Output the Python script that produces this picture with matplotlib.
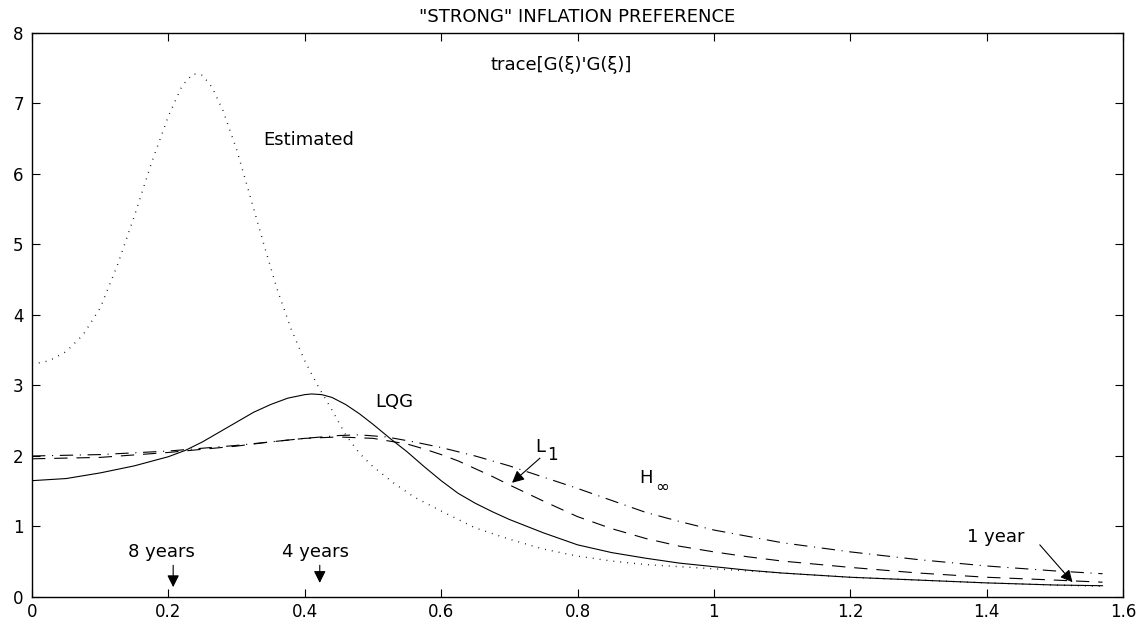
import numpy as np
import matplotlib.pyplot as plt

plt.rcParams['font.family'] = ['DejaVu Sans']

# curves (x = frequency, y = trace value)
x_est = [0, 0.025, 0.05, 0.075, 0.1, 0.125, 0.15, 0.175, 0.2, 0.22, 0.236, 0.25,
         0.264, 0.28, 0.3, 0.32, 0.34, 0.36, 0.38, 0.4, 0.42, 0.44, 0.46, 0.48,
         0.5, 0.53, 0.56, 0.6, 0.65, 0.7, 0.75, 0.8, 0.85, 0.9, 0.95, 1.0,
         1.1, 1.2, 1.3, 1.4, 1.5, 1.57]
y_est = [3.3, 3.35, 3.48, 3.72, 4.1, 4.7, 5.4, 6.15, 6.82, 7.25, 7.42, 7.4,
         7.23, 6.9, 6.35, 5.68, 5.0, 4.35, 3.8, 3.35, 2.98, 2.65, 2.3, 2.04,
         1.85, 1.62, 1.42, 1.22, 0.98, 0.82, 0.68, 0.58, 0.51, 0.46, 0.43, 0.40,
         0.34, 0.28, 0.24, 0.20, 0.17, 0.15]

x_lqg = [0, 0.05, 0.1, 0.15, 0.2, 0.225, 0.25, 0.275, 0.3, 0.325, 0.35, 0.375,
         0.4, 0.41, 0.425, 0.44, 0.46, 0.48, 0.5, 0.525, 0.55, 0.575, 0.6, 0.625,
         0.65, 0.675, 0.7, 0.75, 0.8, 0.85, 0.9, 0.95, 1.0, 1.05, 1.1, 1.2, 1.3,
         1.4, 1.5, 1.57]
y_lqg = [1.65, 1.68, 1.76, 1.86, 1.99, 2.08, 2.2, 2.34, 2.48, 2.62, 2.73, 2.82,
         2.87, 2.88, 2.87, 2.83, 2.73, 2.6, 2.45, 2.25, 2.06, 1.85, 1.65, 1.47,
         1.33, 1.21, 1.1, 0.91, 0.74, 0.63, 0.55, 0.48, 0.43, 0.38, 0.34, 0.28, 0.24,
         0.2, 0.17, 0.16]

x_l1 = [0, 0.1, 0.2, 0.3, 0.35, 0.4, 0.45, 0.5, 0.55, 0.575, 0.6, 0.625, 0.65,
        0.675, 0.7, 0.75, 0.8, 0.85, 0.9, 0.95, 1.0, 1.05, 1.1, 1.2, 1.3, 1.4,
        1.5, 1.57]
y_l1 = [1.96, 1.98, 2.05, 2.14, 2.2, 2.25, 2.27, 2.25, 2.17, 2.1, 2.02, 1.93, 1.82,
        1.71, 1.59, 1.36, 1.14, 0.97, 0.83, 0.72, 0.64, 0.57, 0.51, 0.42, 0.34, 0.28,
        0.24, 0.21]

x_hinf = [0, 0.1, 0.2, 0.3, 0.4, 0.45, 0.48, 0.52, 0.56, 0.6, 0.65, 0.7, 0.75,
          0.8, 0.85, 0.9, 0.95, 1.0, 1.05, 1.1, 1.2, 1.3, 1.4, 1.5, 1.57]
y_hinf = [2.0, 2.02, 2.07, 2.15, 2.25, 2.29, 2.3, 2.27, 2.2, 2.12, 2.0, 1.86, 1.7,
          1.54, 1.37, 1.2, 1.07, 0.95, 0.86, 0.77, 0.64, 0.53, 0.44, 0.37, 0.33]

xticks = [0, 0.2, 0.4, 0.6, 0.8, 1, 1.2, 1.4, 1.6]
xticklabels = ['0', '0.2', '0.4', '0.6', '0.8', '1', '1.2', '1.4', '1.6']
yticks = [0, 1, 2, 3, 4, 5, 6, 7, 8]

fig = plt.figure(figsize=(11.48, 6.25), dpi=100)
ax = fig.add_axes([0.0279, 0.0448, 0.9503, 0.9025])

ax.plot(x_est, y_est, color='k', lw=1.0, linestyle=(0, (0.6, 4.4)))
ax.plot(x_lqg, y_lqg, color='k', lw=0.8)
ax.plot(x_l1, y_l1, color='k', lw=0.8, linestyle=(0, (12, 8)))
ax.plot(x_hinf, y_hinf, color='k', lw=0.8, linestyle=(0, (12, 6, 1, 6)))

ax.set_xlim(0, 1.6)
ax.set_ylim(0, 8)
ax.set_xticks(xticks)
ax.set_xticklabels(xticklabels)
ax.set_yticks(yticks)
ax.tick_params(direction='in', length=6, width=0.8, labelsize=12,
               top=True, right=True, pad=4)
ax.tick_params(axis='y', pad=6)
for s in ax.spines.values():
    s.set_linewidth(1.0)

ax.set_title('"STRONG" INFLATION PREFERENCE', fontsize=13, pad=8)

fs = 13
ax.text(0.776, 7.55, "trace[G(\u03be)'G(\u03be)]", fontsize=fs, ha='center', va='center')
ax.text(0.339, 6.48, 'Estimated', fontsize=fs, ha='left', va='center')
ax.text(0.503, 2.77, 'LQG', fontsize=fs, ha='left', va='center')
ax.text(0.738, 2.13, 'L', fontsize=fs, ha='left', va='center')
ax.text(0.756, 2.02, '1', fontsize=fs - 1, ha='left', va='center')
ax.text(0.89, 1.69, 'H', fontsize=fs, ha='left', va='center')
ax.text(0.914, 1.56, '\u221e', fontsize=fs - 1, ha='left', va='center')
ax.text(1.371, 0.85, '1 year', fontsize=fs, ha='left', va='center')
ax.text(0.141, 0.64, '8 years', fontsize=fs, ha='left', va='center')
ax.text(0.366, 0.64, '4 years', fontsize=fs, ha='left', va='center')

arrow = dict(arrowstyle='-|>', color='k', lw=0.8, mutation_scale=18, shrinkA=0, shrinkB=0)
ax.annotate('', xy=(0.704, 1.62), xytext=(0.745, 1.97), arrowprops=arrow)
ax.annotate('', xy=(1.526, 0.21), xytext=(1.478, 0.74), arrowprops=arrow)
ax.annotate('', xy=(0.207, 0.14), xytext=(0.207, 0.45), arrowprops=arrow)
ax.annotate('', xy=(0.422, 0.2), xytext=(0.422, 0.45), arrowprops=arrow)

fig.savefig('out.png', dpi=100)
